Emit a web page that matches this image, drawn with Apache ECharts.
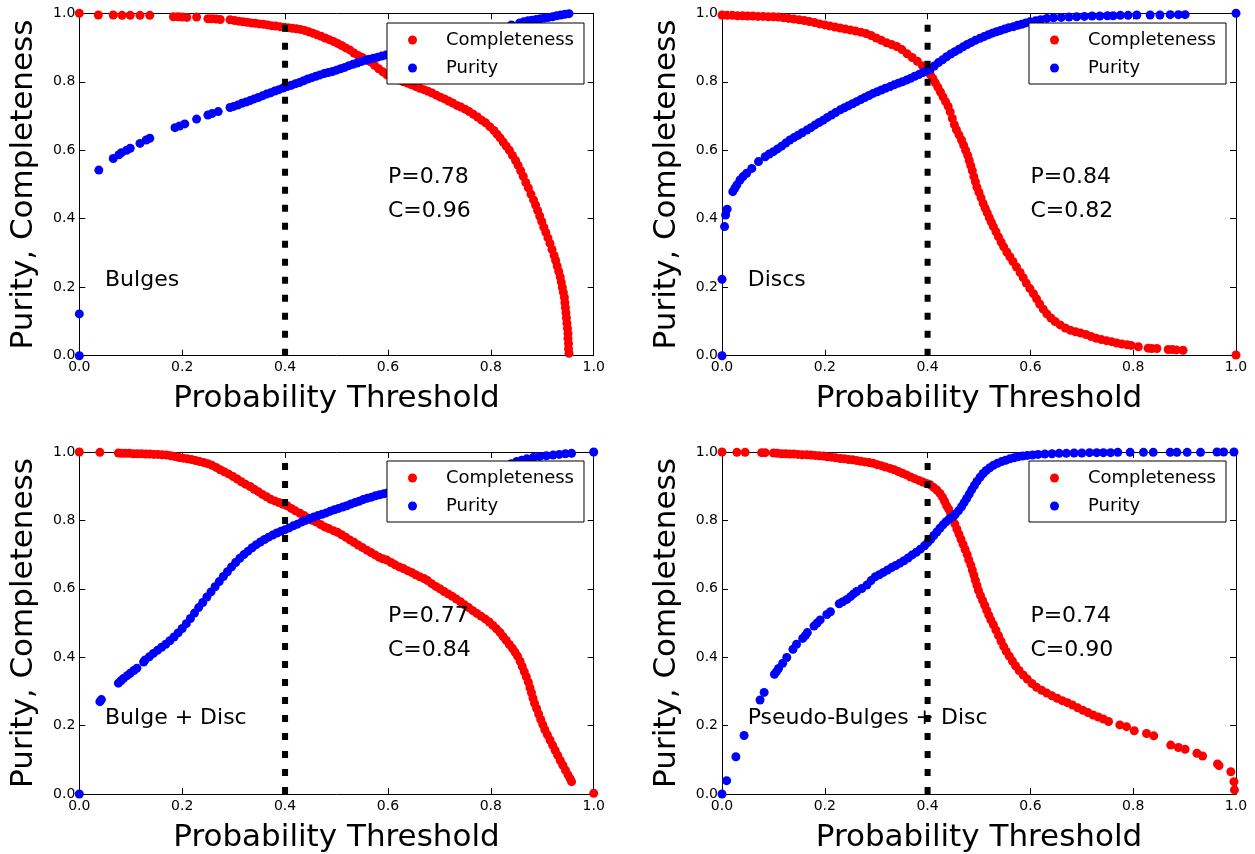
<!DOCTYPE html>
<html>
<head>
<meta charset="utf-8">
<script src="https://cdn.jsdelivr.net/npm/echarts@6/dist/echarts.min.js"></script>
<style>
html,body{margin:0;padding:0;background:#fff;}
#chart{width:1255px;height:854px;}
</style>
</head>
<body>
<div id="chart"></div>
<script>
// ---------- DATA ----------
const tickLabels = ['0.0', '0.2', '0.4', '0.6', '0.8', '1.0'];
const panelNames = ['Bulges', 'Discs', 'Bulge + Disc', 'Pseudo-Bulges + Disc'];
const purityText = ['P=0.78', 'P=0.84', 'P=0.77', 'P=0.74'];
const completenessText = ['C=0.96', 'C=0.82', 'C=0.84', 'C=0.90'];
const threshold = 0.4;
const annotationPos = [0.6, 0.4];
const namePos = [0.05, 0.2];

const bulgesCompleteness = [[0,1.0],[0.037,0.995],[0.066,0.995],[0.083,0.994],[0.099,0.994],[0.118,0.994],[0.137,0.994],[0.183,0.99],[0.192,0.99],[0.2,0.989],[0.209,0.988],[0.228,0.989],[0.25,0.984],[0.258,0.984],[0.266,0.983],[0.274,0.982],
[0.293,0.981],[0.302,0.979],[0.31,0.977],[0.318,0.975],[0.326,0.974],[0.334,0.972],[0.342,0.971],[0.35,0.969],[0.358,0.968],[0.366,0.966],[0.374,0.964],[0.382,0.963],[0.39,0.961],[0.398,0.959],[0.406,0.958],[0.414,0.956],[0.422,0.955],[0.43,0.953],[0.438,0.95],[0.446,0.946],[0.454,0.942],[0.462,0.937],[0.47,0.933],[0.478,0.928],[0.486,0.923],[0.494,0.918],[0.502,0.912],[0.51,0.906],[0.518,0.899],[0.526,0.893],[0.534,0.884],[0.542,0.877],[0.55,0.871],[0.558,0.864],[0.566,0.858],[0.574,0.848],[0.582,0.838],[0.59,0.829],[0.598,0.82],[0.606,0.813],[0.614,0.808],[0.622,0.805],[0.63,0.8],[0.638,0.796],[0.646,0.791],[0.654,0.786],[0.662,0.781],[0.67,0.777],[0.678,0.772],[0.686,0.767],[0.694,0.761],[0.702,0.755],[0.71,0.75],[0.718,0.744],[0.726,0.738],[0.734,0.731],[0.742,0.726],[0.75,0.72],[0.758,0.713],[0.766,0.705],[0.774,0.697],[0.782,0.688],[0.79,0.68],[0.798,0.669],[0.806,0.658],[0.812,0.647],[0.818,0.636],[0.824,0.624],[0.83,0.612],[0.836,0.6],[0.842,0.585],[0.848,0.57],[0.853,0.556],[0.858,0.54],[0.863,0.524],[0.868,0.506],[0.873,0.49],[0.878,0.472],[0.883,0.455],[0.887,0.44],[0.891,0.424],[0.895,0.408],[0.899,0.392],[0.903,0.375],[0.907,0.36],[0.911,0.344],[0.915,0.328],[0.919,0.31],[0.923,0.293],[0.926,0.278],[0.929,0.262],[0.932,0.246],[0.935,0.23],[0.937,0.215],[0.939,0.2],[0.941,0.185],[0.943,0.17],[0.944,0.155],[0.945,0.14],[0.946,0.125],[0.947,0.11],[0.948,0.095],[0.949,0.08],[0.95,0.065],[0.95,0.05],[0.951,0.035],[0.951,0.02],[0.952,0.007]];

const bulgesPurity = [[0,0],[0,0.122],[0.038,0.542],[0.066,0.576],[0.077,0.587],[0.082,0.593],[0.092,0.6],[0.099,0.606],[0.118,0.62],[0.13,0.63],[0.137,0.635],[0.186,0.666],[0.195,0.671],[0.205,0.677],[0.228,0.691],[0.25,0.703],[0.258,0.707],[0.27,0.713],
[0.293,0.725],[0.3,0.728],[0.308,0.732],[0.316,0.737],[0.324,0.741],[0.332,0.745],[0.34,0.75],[0.348,0.754],[0.356,0.759],[0.364,0.764],[0.372,0.768],[0.38,0.773],[0.388,0.777],[0.396,0.782],[0.404,0.786],[0.412,0.79],[0.42,0.794],[0.428,0.798],[0.436,0.803],[0.444,0.808],[0.452,0.812],[0.46,0.816],[0.468,0.82],[0.476,0.824],[0.484,0.827],[0.492,0.83],[0.5,0.834],[0.508,0.838],[0.516,0.842],[0.524,0.847],[0.532,0.851],[0.54,0.855],[0.548,0.859],[0.556,0.863],[0.564,0.866],[0.572,0.869],[0.58,0.872],[0.588,0.875],[0.596,0.878],[0.604,0.881],[0.62,0.886],[0.64,0.893],[0.66,0.9],[0.68,0.907],[0.7,0.914],[0.72,0.921],[0.74,0.928],[0.76,0.935],[0.78,0.943],[0.8,0.95],[0.82,0.958],[0.84,0.966],[0.856,0.972],[0.864,0.975],[0.872,0.978],[0.88,0.98],[0.888,0.982],[0.896,0.984],[0.904,0.986],[0.912,0.988],[0.92,0.99],[0.928,0.993],[0.936,0.995],[0.944,0.997],[0.952,0.999]];

const discsCompleteness = [[0,0.995],[0.01,0.994],[0.02,0.994],[0.03,0.993],[0.04,0.993],[0.05,0.992],[0.06,0.992],[0.07,0.991],[0.08,0.991],[0.09,0.99],[0.1,0.99],[0.11,0.989],[0.12,0.987],[0.13,0.985],[0.14,0.983],[0.15,0.981],[0.16,0.979],[0.17,0.976],[0.18,0.973],[0.19,0.969],[0.2,0.966],[0.21,0.963],[0.22,0.96],[0.23,0.957],[0.24,0.954],[0.25,0.951],[0.26,0.948],[0.27,0.945],[0.28,0.941],[0.29,0.935],[0.3,0.928],[0.31,0.921],[0.32,0.914],[0.33,0.909],[0.34,0.903],[0.35,0.894],[0.36,0.882],[0.37,0.871],[0.38,0.86],[0.39,0.847],[0.398,0.834],[0.405,0.822],[0.41,0.81],[0.415,0.797],[0.42,0.784],[0.425,0.77],[0.43,0.756],[0.435,0.742],[0.44,0.728],[0.444,0.712],[0.448,0.693],[0.452,0.675],[0.456,0.66],[0.461,0.645],[0.466,0.63],[0.47,0.615],[0.474,0.6],[0.478,0.585],[0.481,0.57],[0.484,0.555],[0.487,0.54],[0.49,0.523],[0.493,0.508],[0.496,0.492],[0.5,0.477],[0.504,0.461],[0.508,0.445],[0.512,0.431],[0.516,0.417],[0.52,0.403],[0.524,0.39],[0.528,0.377],[0.533,0.362],[0.538,0.347],[0.543,0.332],[0.548,0.318],[0.554,0.303],[0.56,0.289],[0.566,0.275],[0.573,0.259],[0.58,0.243],[0.586,0.228],[0.592,0.212],[0.599,0.196],[0.606,0.181],[0.612,0.166],[0.618,0.151],[0.625,0.136],[0.632,0.122],[0.64,0.11],[0.648,0.1],[0.658,0.09],[0.668,0.081],[0.678,0.074],[0.688,0.07],[0.698,0.066],[0.708,0.062],[0.718,0.056],[0.728,0.051],[0.738,0.047],[0.748,0.044],[0.758,0.041],[0.768,0.037],[0.778,0.034],[0.788,0.032],[0.796,0.03],[0.81,0.026],[0.829,0.022],[0.836,0.021],[0.846,0.021],[0.868,0.018],[0.876,0.018],[0.884,0.017],[0.897,0.016],[1.0,0.002]];

const discsPurity = [[0,0],[0,0.223],[0.005,0.377],[0.007,0.411],[0.01,0.428],[0.021,0.479],[0.025,0.489],[0.029,0.499],[0.035,0.513],[0.041,0.523],[0.048,0.533],[0.058,0.547],[0.071,0.567],[0.084,0.581],[0.092,0.589],[0.1,0.596],[0.108,0.604],[0.116,0.612],[0.124,0.621],[0.132,0.63],[0.14,0.637],[0.148,0.644],[0.156,0.651],[0.165,0.659],[0.173,0.666],[0.181,0.674],[0.189,0.681],[0.197,0.688],[0.205,0.696],[0.213,0.703],[0.221,0.71],[0.23,0.718],[0.238,0.724],[0.246,0.73],[0.254,0.736],[0.262,0.742],[0.27,0.748],[0.278,0.754],[0.286,0.76],[0.294,0.766],[0.302,0.771],[0.31,0.776],[0.318,0.781],[0.327,0.786],[0.335,0.791],[0.343,0.796],[0.351,0.8],[0.359,0.805],[0.367,0.81],[0.375,0.816],[0.383,0.821],[0.391,0.827],[0.398,0.832],[0.405,0.836],[0.413,0.846],[0.421,0.856],[0.429,0.864],[0.437,0.873],[0.445,0.881],[0.453,0.888],[0.461,0.895],[0.469,0.902],[0.477,0.909],[0.485,0.915],[0.493,0.921],[0.502,0.927],[0.51,0.932],[0.518,0.937],[0.526,0.942],[0.534,0.946],[0.542,0.95],[0.55,0.954],[0.558,0.958],[0.567,0.961],[0.575,0.965],[0.583,0.968],[0.591,0.972],[0.599,0.975],[0.61,0.978],[0.62,0.981],[0.632,0.985],[0.645,0.987],[0.66,0.988],[0.675,0.989],[0.69,0.99],[0.705,0.991],[0.72,0.992],[0.735,0.992],[0.75,0.993],[0.761,0.993],[0.775,0.994],[0.79,0.994],[0.807,0.995],[0.833,0.995],[0.852,0.995],[0.872,0.996],[0.888,0.996],[0.901,0.996],[1.0,1.0]];

const bulgeDiscCompleteness = [[0,1.0],[0.04,0.999],[0.076,0.997],[0.083,0.996],[0.09,0.996],[0.097,0.996],[0.105,0.995],[0.113,0.995],[0.121,0.995],[0.129,0.994],[0.137,0.994],[0.145,0.993],[0.153,0.993],[0.161,0.992],[0.17,0.991],[0.178,0.989],[0.186,0.987],[0.194,0.984],[0.202,0.982],[0.21,0.98],[0.218,0.978],[0.226,0.975],[0.234,0.972],[0.242,0.969],[0.25,0.966],[0.258,0.961],[0.266,0.955],[0.274,0.948],[0.282,0.942],[0.29,0.936],[0.299,0.928],[0.307,0.921],[0.315,0.913],[0.323,0.906],[0.332,0.899],[0.34,0.891],[0.348,0.884],[0.356,0.876],[0.364,0.869],[0.372,0.862],[0.38,0.857],[0.388,0.852],[0.396,0.847],[0.404,0.843],[0.412,0.835],[0.42,0.828],[0.429,0.821],[0.437,0.814],[0.445,0.807],[0.453,0.8],[0.461,0.795],[0.469,0.788],[0.477,0.781],[0.485,0.776],[0.494,0.77],[0.502,0.765],[0.51,0.758],[0.518,0.751],[0.526,0.743],[0.534,0.736],[0.542,0.728],[0.55,0.721],[0.559,0.713],[0.567,0.706],[0.575,0.699],[0.583,0.692],[0.59,0.688],[0.598,0.684],[0.606,0.677],[0.614,0.67],[0.622,0.664],[0.63,0.659],[0.638,0.653],[0.646,0.648],[0.654,0.641],[0.662,0.635],[0.67,0.63],[0.677,0.624],[0.685,0.615],[0.693,0.607],[0.701,0.6],[0.709,0.592],[0.717,0.585],[0.725,0.578],[0.733,0.57],[0.741,0.562],[0.749,0.553],[0.757,0.545],[0.765,0.536],[0.773,0.528],[0.781,0.52],[0.789,0.512],[0.797,0.503],[0.804,0.493],[0.811,0.483],[0.818,0.472],[0.824,0.46],[0.83,0.449],[0.836,0.437],[0.842,0.426],[0.847,0.415],[0.852,0.403],[0.857,0.388],[0.861,0.373],[0.865,0.358],[0.869,0.343],[0.873,0.327],[0.876,0.311],[0.879,0.296],[0.882,0.28],[0.885,0.265],[0.889,0.25],[0.893,0.234],[0.897,0.218],[0.901,0.203],[0.905,0.188],[0.91,0.173],[0.915,0.158],[0.92,0.143],[0.925,0.128],[0.93,0.113],[0.935,0.098],[0.94,0.084],[0.945,0.07],[0.95,0.056],[0.954,0.045],[0.957,0.036],[1.0,0.002]];

const bulgeDiscPurity = [[0,0],[0.04,0.27],[0.043,0.276],[0.076,0.324],[0.081,0.331],[0.086,0.338],[0.093,0.346],[0.099,0.353],[0.106,0.361],[0.112,0.368],[0.125,0.386],[0.128,0.392],[0.136,0.401],[0.144,0.411],[0.152,0.42],[0.16,0.429],[0.168,0.438],[0.176,0.448],[0.184,0.459],[0.192,0.471],[0.2,0.484],[0.208,0.498],[0.216,0.513],[0.224,0.529],[0.232,0.545],[0.24,0.56],[0.248,0.576],[0.256,0.591],[0.264,0.606],[0.272,0.621],[0.28,0.636],[0.288,0.65],[0.296,0.664],[0.304,0.677],[0.312,0.689],[0.32,0.7],[0.328,0.71],[0.336,0.72],[0.344,0.729],[0.352,0.737],[0.36,0.744],[0.368,0.751],[0.376,0.757],[0.384,0.763],[0.392,0.768],[0.4,0.773],[0.408,0.778],[0.416,0.784],[0.424,0.789],[0.432,0.795],[0.44,0.8],[0.448,0.805],[0.456,0.81],[0.464,0.814],[0.472,0.818],[0.48,0.822],[0.488,0.827],[0.496,0.831],[0.504,0.835],[0.512,0.839],[0.52,0.843],[0.528,0.848],[0.536,0.852],[0.544,0.856],[0.552,0.861],[0.56,0.865],[0.568,0.868],[0.576,0.872],[0.584,0.875],[0.592,0.878],[0.6,0.881],[0.62,0.888],[0.64,0.895],[0.66,0.902],[0.68,0.909],[0.7,0.916],[0.72,0.923],[0.74,0.93],[0.76,0.937],[0.78,0.944],[0.8,0.951],[0.82,0.958],[0.84,0.966],[0.85,0.972],[0.86,0.976],[0.87,0.98],[0.883,0.985],[0.895,0.987],[0.908,0.989],[0.921,0.991],[0.933,0.993],[0.945,0.995],[0.957,0.996],[1.0,1.0]];

const pseudoCompleteness = [[0,1.0],[0.029,0.999],[0.045,0.999],[0.077,0.998],[0.084,0.998],[0.1,0.997],[0.108,0.996],[0.116,0.995],[0.124,0.995],[0.132,0.994],[0.14,0.994],[0.148,0.993],[0.156,0.992],[0.165,0.992],[0.173,0.991],[0.181,0.99],[0.189,0.989],[0.197,0.988],[0.205,0.986],[0.213,0.985],[0.221,0.983],[0.23,0.981],[0.238,0.98],[0.246,0.978],[0.254,0.977],[0.262,0.975],[0.27,0.973],[0.278,0.971],[0.286,0.969],[0.294,0.967],[0.302,0.963],[0.31,0.96],[0.318,0.956],[0.327,0.952],[0.335,0.948],[0.343,0.943],[0.351,0.938],[0.359,0.933],[0.367,0.927],[0.375,0.922],[0.383,0.917],[0.391,0.912],[0.398,0.908],[0.405,0.904],[0.412,0.896],[0.418,0.889],[0.424,0.879],[0.429,0.868],[0.433,0.856],[0.437,0.843],[0.441,0.833],[0.445,0.82],[0.449,0.806],[0.453,0.79],[0.457,0.775],[0.461,0.76],[0.465,0.745],[0.469,0.73],[0.473,0.715],[0.477,0.7],[0.48,0.685],[0.484,0.67],[0.487,0.655],[0.49,0.64],[0.493,0.625],[0.496,0.61],[0.499,0.595],[0.503,0.58],[0.507,0.566],[0.511,0.552],[0.515,0.537],[0.519,0.523],[0.523,0.509],[0.528,0.495],[0.533,0.479],[0.538,0.463],[0.543,0.447],[0.548,0.431],[0.553,0.417],[0.559,0.403],[0.565,0.389],[0.571,0.375],[0.578,0.361],[0.586,0.348],[0.594,0.336],[0.603,0.323],[0.612,0.312],[0.622,0.303],[0.632,0.295],[0.642,0.287],[0.652,0.28],[0.662,0.273],[0.672,0.267],[0.682,0.26],[0.692,0.252],[0.702,0.245],[0.712,0.238],[0.722,0.231],[0.732,0.225],[0.742,0.219],[0.752,0.212],[0.774,0.202],[0.787,0.197],[0.802,0.185],[0.826,0.177],[0.84,0.17],[0.873,0.143],[0.888,0.136],[0.901,0.131],[0.924,0.119],[0.935,0.111],[0.964,0.088],[0.967,0.083],[0.99,0.065],[0.996,0.036],[0.997,0.012]];

const pseudoPurity = [[0,0],[0.009,0.039],[0.027,0.109],[0.043,0.171],[0.074,0.275],[0.082,0.297],[0.102,0.35],[0.106,0.358],[0.11,0.367],[0.118,0.382],[0.126,0.399],[0.138,0.423],[0.145,0.438],[0.157,0.455],[0.162,0.463],[0.166,0.472],[0.179,0.491],[0.185,0.5],[0.191,0.509],[0.204,0.525],[0.211,0.533],[0.228,0.556],[0.235,0.562],[0.243,0.569],[0.25,0.577],[0.256,0.585],[0.262,0.592],[0.272,0.601],[0.282,0.611],[0.29,0.624],[0.298,0.635],[0.306,0.641],[0.314,0.648],[0.322,0.655],[0.33,0.662],[0.338,0.668],[0.346,0.675],[0.354,0.682],[0.362,0.69],[0.37,0.699],[0.378,0.707],[0.386,0.716],[0.394,0.726],[0.4,0.735],[0.406,0.745],[0.412,0.756],[0.418,0.766],[0.424,0.777],[0.43,0.787],[0.436,0.796],[0.442,0.804],[0.448,0.81],[0.454,0.818],[0.46,0.828],[0.466,0.84],[0.471,0.852],[0.476,0.864],[0.481,0.877],[0.486,0.89],[0.491,0.902],[0.496,0.914],[0.502,0.926],[0.508,0.937],[0.514,0.946],[0.521,0.954],[0.528,0.961],[0.536,0.967],[0.544,0.972],[0.552,0.976],[0.56,0.98],[0.568,0.983],[0.576,0.986],[0.585,0.988],[0.594,0.99],[0.604,0.991],[0.615,0.993],[0.628,0.994],[0.642,0.995],[0.656,0.996],[0.67,0.996],[0.685,0.997],[0.7,0.997],[0.715,0.998],[0.729,0.998],[0.742,0.998],[0.756,0.998],[0.77,0.999],[0.794,0.999],[0.82,0.999],[0.839,0.999],[0.872,0.999],[0.885,0.999],[0.905,0.999],[0.931,0.999],[0.963,1.0],[0.976,1.0],[0.996,1.0]];

const completenessSets = [bulgesCompleteness, discsCompleteness, bulgeDiscCompleteness, pseudoCompleteness];
const puritySets = [bulgesPurity, discsPurity, bulgeDiscPurity, pseudoPurity];

// ---------- LAYOUT / STYLE ----------
const FONT = 'DejaVu Sans';
const grids = [
  {left: 79.3, top: 13.3, width: 514.4, height: 342.4},
  {left: 722, top: 13.3, width: 514, height: 342.4},
  {left: 79.3, top: 452, width: 514.4, height: 342},
  {left: 722, top: 452, width: 514, height: 342}
];
const legendPos = [
  {left: 387, top: 23}, {left: 1029, top: 23},
  {left: 387, top: 461}, {left: 1029, top: 461}
];

const tickFmt = v => tickLabels[Math.round(v / 0.2)];
const lineBlack = {show: true, onZero: false, lineStyle: {color: '#000', width: 1}};
const tickIn = {show: true, inside: true, length: 6, lineStyle: {color: '#000', width: 1}};

const xAxes = [], yAxes = [], series = [], legends = [];
grids.forEach((g, i) => {
  xAxes.push({
    gridIndex: i, type: 'value', min: 0, max: 1, interval: 0.2, position: 'bottom',
    axisLine: lineBlack, axisTick: tickIn, splitLine: {show: false},
    axisLabel: {show: true, formatter: tickFmt, color: '#000', fontFamily: FONT, fontSize: 14, margin: 5},
    name: 'Probability Threshold', nameLocation: 'middle', nameGap: 28,
    nameTextStyle: {color: '#000', fontFamily: FONT, fontSize: 31}
  });
  xAxes.push({
    gridIndex: i, type: 'value', min: 0, max: 1, interval: 0.2, position: 'top',
    axisLine: lineBlack, axisTick: tickIn, splitLine: {show: false}, axisLabel: {show: false}
  });
  yAxes.push({
    gridIndex: i, type: 'value', min: 0, max: 1, interval: 0.2, position: 'left',
    axisLine: lineBlack, axisTick: tickIn, splitLine: {show: false},
    axisLabel: {show: true, formatter: tickFmt, color: '#000', fontFamily: FONT, fontSize: 14, margin: 4},
    name: 'Purity, Completeness', nameLocation: 'middle', nameRotate: 90, nameGap: 40,
    nameTextStyle: {color: '#000', fontFamily: FONT, fontSize: 31}
  });
  yAxes.push({
    gridIndex: i, type: 'value', min: 0, max: 1, interval: 0.2, position: 'right',
    axisLine: lineBlack, axisTick: tickIn, splitLine: {show: false}, axisLabel: {show: false}
  });
  const xi = 2 * i, yi = 2 * i;
  series.push({
    type: 'scatter', name: 'Completeness', xAxisIndex: xi, yAxisIndex: yi,
    data: completenessSets[i], symbol: 'circle', symbolSize: 9,
    itemStyle: {color: '#ff0000', opacity: 1}, z: 2, silent: true, animation: false
  });
  series.push({
    type: 'scatter', name: 'Purity', xAxisIndex: xi, yAxisIndex: yi,
    data: puritySets[i], symbol: 'circle', symbolSize: 9,
    itemStyle: {color: '#0000ff', opacity: 1}, z: 2, silent: true, animation: false
  });
  series.push({
    type: 'line', name: 'threshold', xAxisIndex: xi, yAxisIndex: yi,
    data: [[threshold, 0], [threshold, 1]], symbol: 'none', silent: true, animation: false,
    lineStyle: {color: '#000', width: 6, type: [7, 11], cap: 'butt'}, z: 3
  });
  legends.push({
    data: ['Completeness', 'Purity'], orient: 'vertical',
    left: legendPos[i].left, top: legendPos[i].top,
    icon: 'circle', itemWidth: 9, itemHeight: 9, itemGap: 10,
    padding: [8, 10, 7, 21], borderColor: '#000', borderWidth: 1, backgroundColor: '#fff',
    borderRadius: 0, selectedMode: false, z: 10,
    textStyle: {color: '#000', fontFamily: FONT, fontSize: 18, lineHeight: 17, padding: [0, 0, 0, 24]}
  });
});

const chart = echarts.init(document.getElementById('chart'), null, {renderer: 'canvas'});
chart.setOption({
  backgroundColor: '#fff',
  animation: false,
  grid: grids,
  xAxis: xAxes,
  yAxis: yAxes,
  legend: legends,
  series: series
});

// text annotations placed through the axes' own scales
const graphics = [];
grids.forEach((g, i) => {
  const pa = chart.convertToPixel({gridIndex: i}, annotationPos);
  const pn = chart.convertToPixel({gridIndex: i}, namePos);
  graphics.push({
    type: 'text', x: pa[0], y: pa[1] + 10, z: 20, silent: true,
    style: {text: purityText[i] + '\n' + completenessText[i], fill: '#000',
      font: '22px "DejaVu Sans"', lineHeight: 34, align: 'left', verticalAlign: 'bottom'}
  });
  graphics.push({
    type: 'text', x: pn[0], y: pn[1] + 10, z: 20, silent: true,
    style: {text: panelNames[i], fill: '#000',
      font: '22px "DejaVu Sans"', lineHeight: 34, align: 'left', verticalAlign: 'bottom'}
  });
});
chart.setOption({graphic: graphics});
</script>
</body>
</html>
